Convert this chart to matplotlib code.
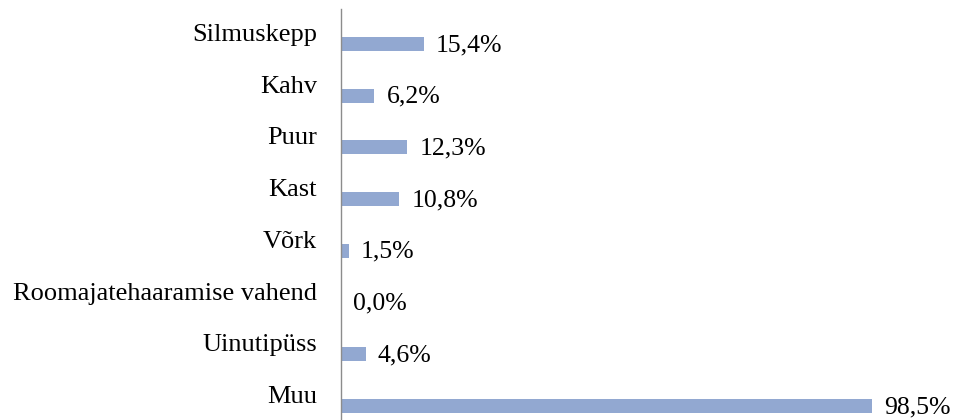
import matplotlib.pyplot as plt

categories = ["Silmuskepp", "Kahv", "Puur", "Kast", "Võrk",
              "Roomajatehaaramise vahend", "Uinutipüss", "Muu"]
values = [15.4, 6.2, 12.3, 10.8, 1.5, 0.0, 4.6, 98.5]
labels = ["15,4%", "6,2%", "12,3%", "10,8%", "1,5%", "0,0%", "4,6%", "98,5%"]

plt.rcParams['font.family'] = ['Liberation Serif', 'DejaVu Serif']

fig = plt.figure(figsize=(9.61, 4.2), dpi=100)
ax = fig.add_axes([341 / 961, 0, 1 - 341 / 961, 1 - 9 / 420])

pos = list(range(len(categories)))
ax.barh(pos, values, height=0.27, color='#92a8d1')

ax.set_ylim(7.27, -0.677)
ax.set_xlim(0, 115)

for i, (cat, lab, v) in enumerate(zip(categories, labels, values)):
    # category name sits a bit above the bar
    ax.annotate(cat, xy=(0, i), xytext=(-24, 9), textcoords='offset pixels',
                ha='right', va='center', fontsize=19, color='black')
    ax.annotate(lab, xy=(v, i), xytext=(12, -1), textcoords='offset pixels',
                ha='left', va='center', fontsize=18.5, color='black')

for s in ['top', 'right', 'bottom']:
    ax.spines[s].set_visible(False)
ax.spines['left'].set_color('#8c8c8c')
ax.spines['left'].set_linewidth(1)
ax.set_xticks([])
ax.set_yticks([])

fig.savefig('out.png', dpi=100)
